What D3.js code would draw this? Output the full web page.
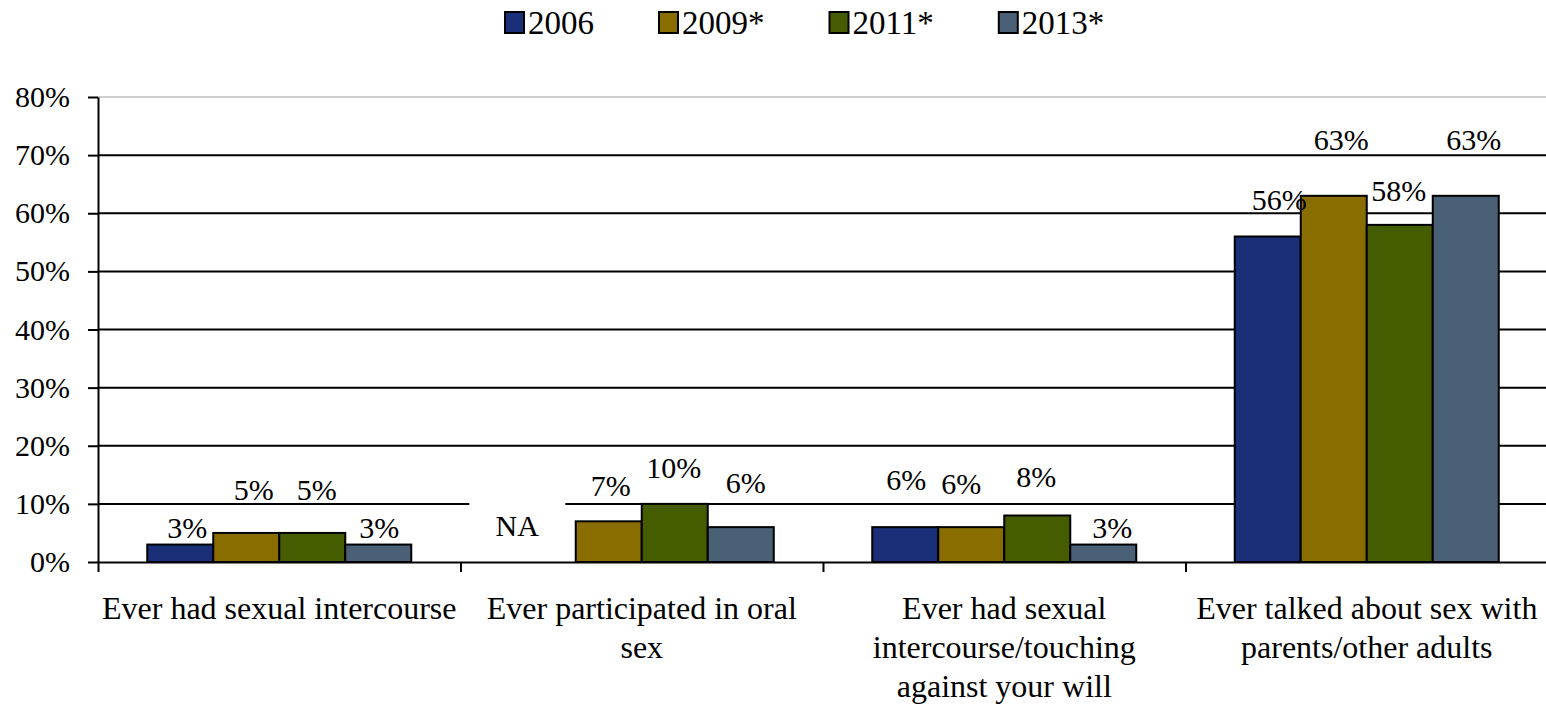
<!DOCTYPE html>
<html>
<head>
<meta charset="utf-8">
<script src="https://cdn.jsdelivr.net/npm/d3@7"></script>
<style>
  body { margin: 0; background: #fff; }
  text { font-family: "Liberation Serif", "Times New Roman", serif; fill: #000; }
</style>
</head>
<body>
<div id="chart"></div>
<script>
// chart values
var categories = [
    "Ever had sexual intercourse",
    "Ever participated in oral sex",
    "Ever had sexual intercourse/touching against your will",
    "Ever talked about sex with parents/other adults"
];
var categoryLines = [
    ["Ever had sexual intercourse"],
    ["Ever participated in oral", "sex"],
    ["Ever had sexual", "intercourse/touching", "against your will"],
    ["Ever talked about sex with", "parents/other adults"]
];
var seriesNames = ["2006", "2009*", "2011*", "2013*"];
var values2006 = [3, null, 6, 56];
var values2009 = [5, 7, 6, 63];
var values2011 = [5, 10, 8, 58];
var values2013 = [3, 6, 3, 63];
var yTicks = [0, 10, 20, 30, 40, 50, 60, 70, 80];

var colors = ["#192f77", "#8a6d00", "#465c00", "#4a6077"];

// hand-moved labels in the original, offsets in px from the default spot
var labelNudge = [
    [[7, 0], [7.5, -26.5], [4.5, -26.5], [1, 0]],
    [[-25.5, -19], [2, -19], [-1, -19], [5, -27]],
    [[1, -30], [-10, -26.5], [-1, -21.5], [9, 0]],
    [[11.5, -20], [7.5, -39.5], [-1, -17.5], [8, -39.5]]
];

var allValues = [values2006, values2009, values2011, values2013];

// set the dimensions and margins of the graph
var margin = { top: 97, right: -2, bottom: 147, left: 98 },
    width = 1546 - margin.left - margin.right,
    height = 709 - margin.top - margin.bottom;

var svg = d3.select("#chart")
    .append("svg")
    .attr("width", 1546)
    .attr("height", 709);

var g = svg.append("g")
    .attr("transform", "translate(" + margin.left + "," + margin.top + ")");

var p = 0.2717;
var x0 = d3.scaleBand().domain(d3.range(categories.length)).range([0, width])
    .paddingInner(p).paddingOuter(p / 2);
var x1 = d3.scaleBand().domain(d3.range(seriesNames.length)).range([0, x0.bandwidth()]);
var y = d3.scaleLinear().domain([0, 80]).range([height, 0]);

// top border of the plot area
g.append("line")
    .attr("x1", 0).attr("x2", width)
    .attr("y1", y(80)).attr("y2", y(80))
    .attr("stroke", "#cfcfcf").attr("stroke-width", 2);

// gridlines
g.selectAll(".grid")
    .data(yTicks.filter(function (d) { return d > 0 && d < 80; }))
    .enter().append("line")
    .attr("class", "grid")
    .attr("x1", 0).attr("x2", width)
    .attr("y1", function (d) { return y(d); })
    .attr("y2", function (d) { return y(d); })
    .attr("stroke", "#000").attr("stroke-width", 2);

// bars
var cells = [];
categories.forEach(function (c, ci) {
    seriesNames.forEach(function (s, si) {
        cells.push({ ci: ci, si: si, v: allValues[si][ci] });
    });
});

g.selectAll(".bar")
    .data(cells.filter(function (d) { return d.v !== null; }))
    .enter().append("rect")
    .attr("class", "bar")
    .attr("x", function (d) { return x0(d.ci) + x1(d.si); })
    .attr("y", function (d) { return y(d.v); })
    .attr("width", x1.bandwidth())
    .attr("height", function (d) { return y(0) - y(d.v); })
    .attr("fill", function (d) { return colors[d.si]; })
    .attr("stroke", "#000")
    .attr("stroke-width", 2);

// data labels
var labels = g.selectAll(".lbl")
    .data(cells)
    .enter().append("g")
    .attr("class", "lbl")
    .attr("transform", function (d) {
        var n = labelNudge[d.ci][d.si];
        var cx = x0(d.ci) + x1(d.si) + x1.bandwidth() / 2 + n[0];
        var cy = y(d.v === null ? 0 : d.v) - 17 + n[1];
        return "translate(" + cx + "," + cy + ")";
    });

labels.filter(function (d) { return d.v === null; })
    .append("rect")
    .attr("x", -48).attr("y", -24)
    .attr("width", 96).attr("height", 48)
    .attr("fill", "#fff");

labels.append("text")
    .attr("text-anchor", "middle")
    .attr("dy", "0.34em")
    .attr("font-size", 30)
    .text(function (d) { return d.v === null ? "NA" : d.v + "%"; });

// Y axis
var yAxis = g.append("g")
    .call(d3.axisLeft(y).tickValues(yTicks).tickSize(10).tickSizeOuter(0).tickPadding(18)
        .tickFormat(function (d) { return d + "%"; }));
yAxis.selectAll("path, line").attr("stroke", "#000").attr("stroke-width", 2);
yAxis.selectAll("text").attr("font-size", 30).attr("font-family", "Liberation Serif");

// X axis, ticks between categories
var xb = d3.scaleLinear().domain([0, categories.length]).range([0, width]);
var xAxis = g.append("g")
    .attr("transform", "translate(0," + height + ")")
    .call(d3.axisBottom(xb).tickValues(d3.range(categories.length + 1))
        .tickSize(10).tickSizeOuter(0).tickFormat(""));
xAxis.selectAll("path, line").attr("stroke", "#000").attr("stroke-width", 2);

// category labels
var cat = g.selectAll(".cat")
    .data(categoryLines)
    .enter().append("text")
    .attr("class", "cat")
    .attr("text-anchor", "middle")
    .attr("font-size", 32)
    .attr("transform", function (d, i) {
        return "translate(" + (x0(i) + x0.bandwidth() / 2) + "," + (height + 57) + ")";
    });
cat.selectAll("tspan")
    .data(function (d) { return d; })
    .enter().append("tspan")
    .attr("x", 0)
    .attr("y", function (d, i) { return i * 39; })
    .text(function (d) { return d; });

// legend
var legend = svg.append("g").attr("transform", "translate(505,0)");
var lx = 0;
seriesNames.forEach(function (s, i) {
    var item = legend.append("g").attr("transform", "translate(" + lx + ",0)");
    item.append("rect")
        .attr("x", 0).attr("y", 12)
        .attr("width", 19).attr("height", 21)
        .attr("fill", colors[i])
        .attr("stroke", "#000").attr("stroke-width", 2);
    var t = item.append("text")
        .attr("x", 23).attr("y", 34)
        .attr("font-size", 33)
        .text(s);
    lx += 23 + t.node().getComputedTextLength() + 65;
});
</script>
</body>
</html>
